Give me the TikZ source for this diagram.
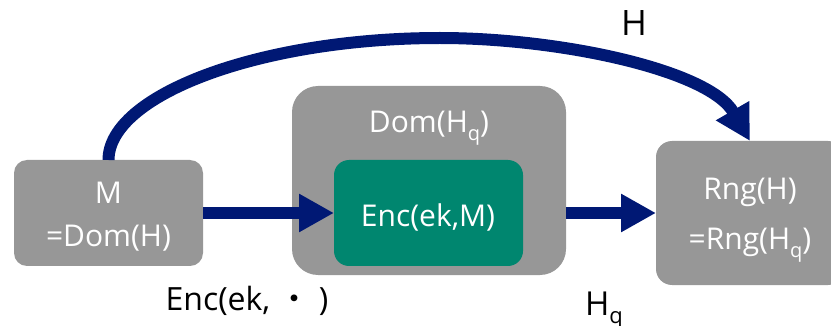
\documentclass[tikz,border=0pt]{standalone}
\usepackage{fontspec}
\setmainfont{Open Sans}
\newfontfamily\cjk{Noto Sans CJK JP}
\usetikzlibrary{arrows.meta}
\definecolor{boxgray}{RGB}{151,151,151}
\definecolor{encgreen}{RGB}{0,134,111}
\definecolor{navy}{RGB}{0,24,116}
% lowered subscript q at the given size
\newcommand\subq[1]{\raisebox{-0.25em}{\fontsize{#1}{#1}\selectfont q}}

\begin{document}
\begin{tikzpicture}[x=1pt,y=-1pt,
  box/.style={fill=boxgray, draw=none, inner sep=0pt, outer sep=0pt, rounded corners=13pt},
  encbox/.style={box, fill=encgreen, rounded corners=15pt},
  boxtext/.style={text=white, font=\fontsize{30}{36}\selectfont, anchor=base, inner sep=0pt},
  lbl/.style={text=black, font=\fontsize{33}{40}\selectfont, anchor=base, inner sep=0pt},
  conn/.style={draw=navy, line width=12pt, -{Triangle[length=35pt,width=36pt]}}
]
\clip (0,0) rectangle (831,326);

% boxes
\node[box, minimum width=189pt, minimum height=106pt] (m) at (108.5,213) {};
\node[box, minimum width=274pt, minimum height=189pt, rounded corners=26pt] (dom) at (429,180.5) {};
\node[encbox, minimum width=189pt, minimum height=106pt] (enc) at (428.5,213) {};
\node[box, minimum width=188pt, minimum height=144pt, rounded corners=16pt] (rng) at (750,213) {};

% box texts
\node[boxtext] (mt1) at (108.5,204) {M};
\node[boxtext] (mt2) at (108.5,247) {=Dom(H)};
\node[boxtext] (domt) at (429,133) {Dom(H\subq{20pt})};
\node[boxtext] (enct) at (428,227) {Enc(ek,M)};
\node[boxtext] (rngt1) at (750,200) {Rng(H)};
\node[boxtext] (rngt2) at (750,250) {=Rng(H\subq{20pt})};

% connectors
\coordinate (top) at (440,38);
\draw[conn] (m.east) -- (enc.west);
\draw[conn] (enc.east -| dom.east) -- (rng.west);
\draw[conn] (m.north) .. controls (108.5,95) and (260,38) .. (top)
  .. controls (560,38) and (709,70) .. (rng.north);

% connector labels
\node[lbl, font=\fontsize{35}{40}\selectfont] (hl) at (634,36) {H};
\node[lbl, font=\fontsize{32}{40}\selectfont] (encl) at (247,310) {Enc(ek, {\cjk ・} )};
\node[lbl] (hql) at (604,315) {H\subq{22pt}};
\end{tikzpicture}
\end{document}
